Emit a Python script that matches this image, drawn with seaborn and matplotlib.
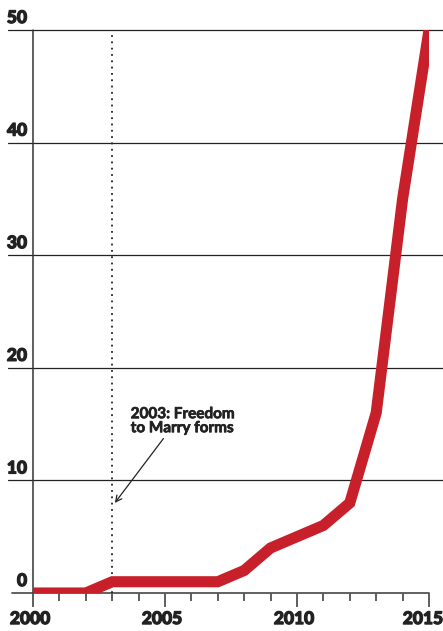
import matplotlib
matplotlib.use("Agg")
import matplotlib.pyplot as plt
import matplotlib.transforms as mtransforms
import matplotlib.patheffects as pe
import seaborn as sns
import pandas as pd
import numpy as np

years = [2000, 2001, 2002, 2003, 2004, 2005, 2006, 2007, 2008, 2009, 2010, 2011, 2012, 2013, 2014, 2015]
values = [0, 0, 0, 1, 1, 1, 1, 1, 2, 4, 5, 6, 8, 16, 35, 50]
y_ticks = [0, 10, 20, 30, 40, 50]
x_major = [2000, 2005, 2010, 2015]
event_year = 2003
event_label = "2003: Freedom\nto Marry forms"

df = pd.DataFrame({"year": years, "value": values})

sns.set_style("white")
plt.rcParams['font.family'] = ['Lato', 'DejaVu Sans']

fig = plt.figure(figsize=(4.43, 6.31), dpi=100)
ax = fig.add_axes([33/443, 1-593/631, (429-33)/443, (593-30)/631])

sns.lineplot(data=df, x="year", y="value", ax=ax, color="#C8202A", linewidth=8,
             solid_capstyle="round", solid_joinstyle="miter", zorder=5)

ax.set_xlim(2000, 2015)
ax.set_ylim(0, 50)
ax.set_xlabel("")
ax.set_ylabel("")
for s in ax.spines.values():
    s.set_visible(False)

bold_fx = [pe.withStroke(linewidth=0.9, foreground="#222222")]
tick_font = dict(fontsize=12.5, fontweight="black", color="#222222")

trans = mtransforms.blended_transform_factory(ax.transAxes, ax.transData)
# horizontal gridlines
for t in y_ticks:
    if t == 0:
        ax.plot([-21/396, 1.0], [t, t], transform=trans, color="#555555", lw=1.3, clip_on=False, zorder=2)
    else:
        ax.plot([-25/396, 1.04], [t, t], transform=trans, color="#222222", lw=0.9, clip_on=False, zorder=2)
    ax.text(-6/396, t + 0.35, str(t), transform=trans, ha="right", va="bottom",
            path_effects=bold_fx, **tick_font)

# y axis line
ax.plot([2000, 2000], [0, 50], color="#333333", lw=1.1, zorder=2, clip_on=False)

# x ticks
ax.set_xticks(x_major)
ax.set_xticklabels([str(x) for x in x_major], **tick_font)
ax.set_xticks(years, minor=True)
ax.tick_params(axis="x", which="major", length=10, width=1.1, color="#333333", pad=3, bottom=True)
ax.tick_params(axis="x", which="minor", length=6, width=1.1, color="#333333", bottom=True)
ax.set_yticks([])
labels = ax.get_xticklabels()
for i, lbl in enumerate(labels):
    dx = -6 if i == len(labels) - 1 else -3
    lbl.set_transform(lbl.get_transform() + mtransforms.ScaledTranslation(dx/100, 0, fig.dpi_scale_trans))
    lbl.set_path_effects(bold_fx)

# event line
ax.axvline(event_year, color="#222222", lw=1.3, linestyle=(0, (1, 2.5)), zorder=3)

ax.annotate(event_label, xy=(2003.1, 8.0), xytext=(2003.7, 16.5),
            fontsize=11, fontweight="bold", color="#222222", ha="left", va="top",
            linespacing=1.0,
            path_effects=[pe.withStroke(linewidth=0.5, foreground="#222222")],
            arrowprops=dict(arrowstyle="->", color="#222222", lw=0.9,
                            shrinkA=0, shrinkB=0, relpos=(0.34, 0.0)),
            zorder=6)

fig.savefig("out.png", dpi=100)
